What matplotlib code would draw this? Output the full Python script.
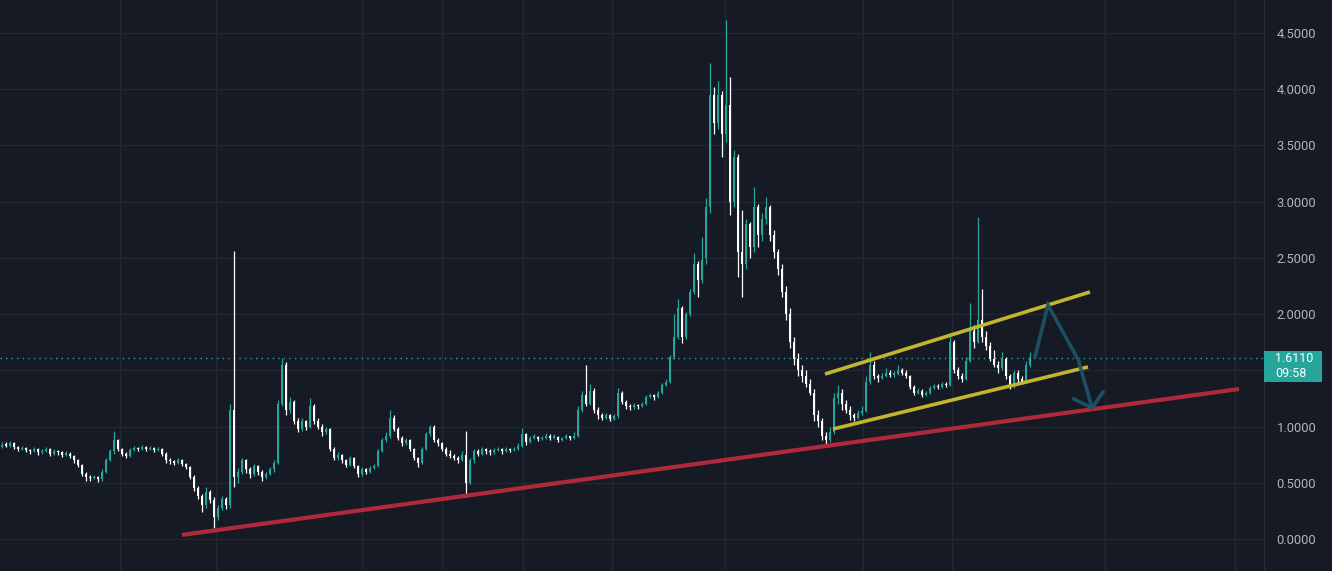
import matplotlib
matplotlib.use("Agg")
import matplotlib.pyplot as plt
from matplotlib.patches import Rectangle

# ---------------- data ----------------
opens = [0.82,0.84,0.83,0.85,0.82,0.80,0.81,0.79,0.78,0.80,
         0.77,0.78,0.80,0.76,0.78,0.77,0.75,0.76,0.74,0.70,
         0.66,0.58,0.55,0.54,0.55,0.53,0.60,0.70,0.78,0.88,
         0.80,0.76,0.74,0.79,0.81,0.80,0.82,0.80,0.81,0.79,
         0.80,0.76,0.70,0.69,0.68,0.70,0.67,0.64,0.55,0.45,
         0.38,0.30,0.42,0.35,0.20,0.28,0.36,0.30,1.15,0.55,
         0.60,0.70,0.62,0.58,0.65,0.60,0.55,0.58,0.62,0.68,
         1.20,1.55,1.15,1.22,1.05,0.98,1.05,1.00,1.18,1.05,
         1.00,0.95,0.98,0.80,0.72,0.75,0.70,0.66,0.72,0.65,
         0.58,0.62,0.60,0.63,0.65,0.78,0.88,0.92,1.08,0.98,
         0.90,0.85,0.88,0.80,0.72,0.68,0.80,0.93,1.00,0.88,
         0.85,0.80,0.76,0.74,0.72,0.70,0.75,0.50,0.70,0.78,
         0.76,0.80,0.78,0.77,0.79,0.80,0.78,0.80,0.79,0.80,
         0.83,0.93,0.86,0.90,0.91,0.89,0.90,0.92,0.90,0.91,
         0.88,0.90,0.91,0.90,0.92,1.15,1.28,1.20,1.32,1.15,
         1.10,1.08,1.10,1.07,1.09,1.30,1.22,1.18,1.17,1.19,
         1.18,1.20,1.26,1.28,1.26,1.30,1.37,1.40,1.62,1.80,
         2.05,1.80,2.00,2.20,2.45,2.30,2.50,2.95,3.95,3.70,
         3.95,3.60,3.86,3.00,3.40,2.55,2.45,2.80,2.60,2.95,
         2.70,2.85,2.95,2.70,2.55,2.40,2.20,2.00,1.75,1.60,
         1.50,1.45,1.38,1.30,1.10,1.05,0.92,0.88,0.95,1.25,
         1.30,1.20,1.15,1.10,1.08,1.12,1.14,1.40,1.55,1.45,
         1.43,1.45,1.48,1.46,1.47,1.50,1.48,1.45,1.35,1.30,
         1.32,1.28,1.30,1.34,1.36,1.35,1.38,1.37,1.75,1.50,
         1.45,1.42,1.58,1.85,1.75,1.95,1.80,1.72,1.60,1.55,
         1.52,1.60,1.45,1.35,1.48,1.42,1.40,1.55]
highs = [0.86,0.86,0.87,0.86,0.83,0.83,0.82,0.80,0.82,0.81,
         0.80,0.82,0.81,0.80,0.79,0.78,0.78,0.77,0.75,0.71,
         0.67,0.60,0.57,0.57,0.56,0.62,0.72,0.80,0.96,0.89,
         0.81,0.77,0.81,0.83,0.82,0.84,0.83,0.83,0.82,0.82,
         0.81,0.77,0.72,0.70,0.72,0.71,0.68,0.65,0.57,0.47,
         0.40,0.46,0.44,0.37,0.30,0.38,0.37,1.20,2.56,0.63,
         0.72,0.71,0.64,0.67,0.66,0.61,0.60,0.64,0.70,1.24,
         1.61,1.57,1.26,1.24,1.08,1.08,1.06,1.25,1.20,1.08,
         1.02,1.00,0.99,0.82,0.77,0.76,0.71,0.74,0.73,0.66,
         0.64,0.63,0.65,0.67,0.80,0.90,0.95,1.15,1.10,1.00,
         0.92,0.90,0.89,0.81,0.73,0.82,0.95,1.01,1.01,0.90,
         0.86,0.82,0.79,0.76,0.74,0.78,0.96,0.72,0.80,0.80,
         0.82,0.81,0.80,0.81,0.82,0.81,0.82,0.81,0.82,0.85,
         0.99,0.94,0.92,0.93,0.92,0.92,0.94,0.93,0.93,0.92,
         0.91,0.93,0.92,0.95,1.18,1.32,1.55,1.38,1.34,1.17,
         1.12,1.12,1.11,1.11,1.34,1.32,1.24,1.20,1.21,1.20,
         1.22,1.28,1.30,1.29,1.32,1.39,1.42,1.64,2.00,2.13,
         2.07,2.02,2.22,2.54,2.47,2.69,3.03,4.23,4.02,4.07,
         3.98,4.62,4.11,3.46,3.42,2.93,2.85,2.82,3.13,2.98,
         2.90,3.04,2.97,2.75,2.58,2.45,2.25,2.05,1.80,1.65,
         1.55,1.50,1.42,1.33,1.15,1.08,0.95,1.00,1.30,1.37,
         1.33,1.24,1.18,1.12,1.15,1.18,1.45,1.66,1.58,1.47,
         1.48,1.52,1.50,1.49,1.55,1.52,1.50,1.46,1.37,1.34,
         1.33,1.32,1.36,1.38,1.38,1.40,1.40,1.81,1.77,1.53,
         1.48,1.62,2.10,1.90,2.86,2.22,1.85,1.75,1.68,1.58,
         1.66,1.62,1.47,1.50,1.50,1.45,1.58,1.66]
lows = [0.81,0.82,0.82,0.80,0.78,0.79,0.77,0.76,0.77,0.75,
        0.76,0.77,0.74,0.75,0.75,0.73,0.74,0.72,0.68,0.64,
        0.56,0.52,0.52,0.53,0.51,0.52,0.59,0.69,0.76,0.78,
        0.74,0.72,0.73,0.78,0.78,0.79,0.78,0.79,0.77,0.78,
        0.74,0.68,0.67,0.66,0.67,0.65,0.62,0.53,0.43,0.36,
        0.24,0.28,0.32,0.10,0.17,0.26,0.27,0.28,0.46,0.50,
        0.58,0.59,0.54,0.56,0.57,0.52,0.53,0.57,0.60,0.67,
        1.18,1.10,1.12,1.02,0.95,0.96,0.97,0.99,1.02,0.98,
        0.92,0.93,0.78,0.70,0.70,0.68,0.64,0.65,0.63,0.55,
        0.56,0.58,0.59,0.62,0.64,0.77,0.86,0.90,0.96,0.88,
        0.83,0.84,0.78,0.70,0.64,0.67,0.79,0.92,0.86,0.83,
        0.78,0.74,0.72,0.70,0.68,0.69,0.37,0.49,0.68,0.74,
        0.75,0.76,0.75,0.76,0.78,0.76,0.77,0.77,0.78,0.79,
        0.82,0.84,0.85,0.89,0.87,0.88,0.89,0.88,0.89,0.86,
        0.87,0.89,0.88,0.89,0.91,1.13,1.18,1.19,1.12,1.07,
        1.06,1.07,1.05,1.06,1.08,1.20,1.16,1.15,1.16,1.16,
        1.17,1.19,1.25,1.24,1.25,1.29,1.36,1.39,1.60,1.78,
        1.74,1.78,1.98,2.18,2.15,2.28,2.45,2.90,3.60,3.65,
        3.40,3.53,2.88,2.95,2.33,2.15,2.40,2.50,2.55,2.60,
        2.65,2.80,2.65,2.50,2.35,2.15,1.95,1.70,1.55,1.45,
        1.40,1.35,1.28,1.05,1.00,0.88,0.84,0.86,0.93,1.20,
        1.15,1.12,1.06,1.05,1.07,1.10,1.13,1.38,1.42,1.40,
        1.42,1.44,1.44,1.44,1.46,1.46,1.43,1.33,1.28,1.29,
        1.26,1.27,1.29,1.33,1.33,1.34,1.35,1.36,1.48,1.42,
        1.40,1.41,1.57,1.70,1.74,1.75,1.68,1.58,1.53,1.48,
        1.50,1.42,1.33,1.34,1.40,1.38,1.39,1.53]
closes = [0.84,0.83,0.85,0.82,0.80,0.81,0.79,0.78,0.80,0.77,
          0.78,0.80,0.76,0.78,0.77,0.75,0.76,0.74,0.70,0.66,
          0.58,0.55,0.54,0.55,0.53,0.60,0.70,0.78,0.88,0.80,
          0.76,0.74,0.79,0.81,0.80,0.82,0.80,0.81,0.79,0.80,
          0.76,0.70,0.69,0.68,0.70,0.67,0.64,0.55,0.45,0.38,
          0.30,0.42,0.35,0.20,0.28,0.36,0.30,1.15,0.55,0.60,
          0.70,0.62,0.58,0.65,0.60,0.55,0.58,0.62,0.68,1.20,
          1.55,1.15,1.22,1.05,0.98,1.05,1.00,1.18,1.05,1.00,
          0.95,0.98,0.80,0.72,0.75,0.70,0.66,0.72,0.65,0.58,
          0.62,0.60,0.63,0.65,0.78,0.88,0.92,1.08,0.98,0.90,
          0.85,0.88,0.80,0.72,0.68,0.80,0.93,1.00,0.88,0.85,
          0.80,0.76,0.74,0.72,0.70,0.75,0.50,0.70,0.78,0.76,
          0.80,0.78,0.77,0.79,0.80,0.78,0.80,0.79,0.80,0.83,
          0.93,0.86,0.90,0.91,0.89,0.90,0.92,0.90,0.91,0.88,
          0.90,0.91,0.90,0.92,1.15,1.28,1.20,1.32,1.15,1.10,
          1.08,1.10,1.07,1.09,1.30,1.22,1.18,1.17,1.19,1.18,
          1.20,1.26,1.28,1.26,1.30,1.37,1.40,1.62,1.80,2.05,
          1.80,2.00,2.20,2.45,2.30,2.48,2.95,3.95,3.70,3.95,
          3.60,3.86,3.00,3.40,2.55,2.45,2.80,2.60,2.95,2.70,
          2.85,2.95,2.70,2.55,2.40,2.20,2.00,1.75,1.60,1.50,
          1.45,1.38,1.30,1.10,1.05,0.92,0.88,0.95,1.25,1.30,
          1.20,1.15,1.10,1.08,1.12,1.14,1.40,1.55,1.45,1.43,
          1.45,1.48,1.46,1.47,1.50,1.48,1.45,1.35,1.30,1.32,
          1.28,1.30,1.34,1.36,1.35,1.38,1.37,1.75,1.50,1.45,
          1.42,1.58,1.85,1.75,1.95,1.80,1.72,1.60,1.55,1.52,
          1.60,1.45,1.35,1.48,1.42,1.40,1.55,1.611]

last_price = 1.611
last_label = "1.6110"
countdown = "09:58"
grid_levels = [0.0, 0.5, 1.0, 1.5, 2.0, 2.5, 3.0, 3.5, 4.0, 4.5]
# 1.5 is hidden behind the last-price tag in the reference
y_ticks = [0.0, 0.5, 1.0, 2.0, 2.5, 3.0, 3.5, 4.0, 4.5]
# bar index of the time-axis grid lines
time_grid = [29.4, 53.6, 89.9, 110.0, 130.25, 152.5, 180.75, 215.25, 237.5, 275.75, 308.25]

# drawings: (bar index, price)
support_line = [(45.0, 0.036), (309.25, 1.334)]
channel_top = [(205.75, 1.467), (272.0, 2.197)]
channel_bottom = [(207.75, 0.978), (271.5, 1.530)]
projection = [(258.25, 1.619), (261.5, 2.081), (269.1, 1.592), (272.5, 1.165)]
arrow_wings = [(268.0, 1.245), (272.5, 1.165), (275.25, 1.307)]

# ---------------- style ----------------
BG = "#161a25"
GRID = "#232733"
UP = "#26a69a"
DOWN = "#ffffff"
TXT = "#b2b5be"

W, H, DPI = 1332, 571, 100
fig = plt.figure(figsize=(W / DPI, H / DPI), dpi=DPI, facecolor=BG)
ax_w = 1264 / W
ax = fig.add_axes([0, 0, ax_w, 1])
ax.set_facecolor(BG)

n = len(closes)
xs = list(range(n))

# grid
for g in time_grid:
    ax.axvline(g, color=GRID, lw=1.0, zorder=0)
for t in grid_levels:
    ax.axhline(t, color=GRID, lw=1.0, zorder=0)

# candles
for i in xs:
    o, h, l, c = opens[i], highs[i], lows[i], closes[i]
    col = UP if c >= o else DOWN
    ax.vlines(i, l, h, color=col, lw=0.9, zorder=2)
    bot = min(o, c)
    ht = max(abs(c - o), 0.012)
    ax.bar(i, ht, bottom=bot, width=0.62, color=col, edgecolor='none', zorder=3)

# last price dotted line
ax.axhline(last_price, color=UP, lw=1.0, linestyle=(0, (1, 3)), zorder=1)

# drawings
def xy(pts):
    return [p[0] for p in pts], [p[1] for p in pts]

ax.plot(*xy(support_line), color="#b0283a", lw=3.0, solid_capstyle='butt', zorder=5)
ax.plot(*xy(channel_top), color="#c2b52f", lw=2.6, solid_capstyle='butt', zorder=5)
ax.plot(*xy(channel_bottom), color="#c2b52f", lw=2.6, solid_capstyle='butt', zorder=5)
ax.plot(*xy(projection), color="#1d5364", lw=2.6, alpha=0.95, solid_joinstyle='miter', zorder=6)
ax.plot(*xy(arrow_wings), color="#1d5364", lw=2.6, alpha=0.95, zorder=6)

ax.set_xlim(-0.5, 315.5)
ax.set_ylim(-0.2847, 4.7937)
ax.set_xticks([])
ax.set_yticks(y_ticks)
ax.yaxis.tick_right()
ax.tick_params(axis='y', length=0, pad=9, labelsize=9.3, labelcolor=TXT)
ax.set_yticklabels([f"{t:.4f}" for t in y_ticks], fontfamily="Roboto")
for s in ['top', 'left', 'bottom']:
    ax.spines[s].set_visible(False)
ax.spines['right'].set_color("#2a2e39")
ax.spines['right'].set_linewidth(1.0)

# price label on the scale
bx0 = 1264 / W
bw = 58 / W
by0 = 1 - 382 / H
bh = 31 / H
fig.patches.append(Rectangle((bx0, by0), bw, bh, transform=fig.transFigure,
                             facecolor=UP, edgecolor='none', zorder=10))
fig.text(1275 / W, 1 - 358.5 / H, last_label, color="white", fontsize=9.0,
         fontfamily="Roboto", va='center', ha='left', zorder=11)
fig.text(1275 / W, 1 - 373.5 / H, countdown, color="white", fontsize=9.0,
         fontfamily="Roboto", va='center', ha='left', zorder=11)

fig.savefig("out.png", dpi=DPI, facecolor=BG)
